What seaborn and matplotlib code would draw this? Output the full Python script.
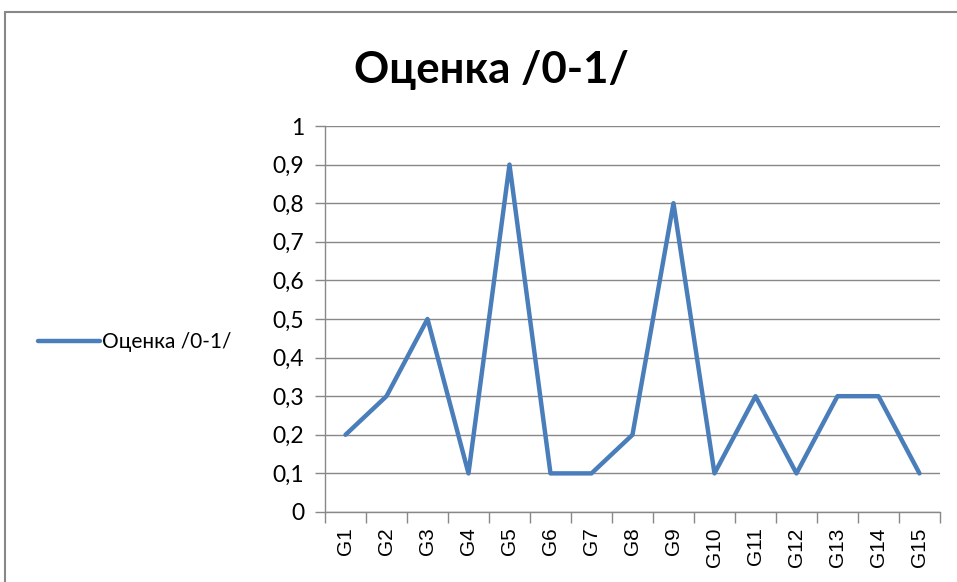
import matplotlib
matplotlib.use("Agg")
import matplotlib.pyplot as plt
import matplotlib.ticker as mticker
import pandas as pd
import seaborn as sns
from matplotlib.lines import Line2D

sns.set_style("white")
plt.rcParams["font.family"] = ["Lato", "DejaVu Sans"]
plt.rcParams["text.color"] = "black"
plt.rcParams["xtick.labelcolor"] = "black"
plt.rcParams["ytick.labelcolor"] = "black"

categories = ["G1", "G2", "G3", "G4", "G5", "G6", "G7", "G8", "G9", "G10",
              "G11", "G12", "G13", "G14", "G15"]
scores = [0.2, 0.3, 0.5, 0.1, 0.9, 0.1, 0.1, 0.2, 0.8, 0.1, 0.3, 0.1, 0.3, 0.3, 0.1]
series_name = "Оценка /0-1/"

df = pd.DataFrame({"group": categories, "score": scores})

fig = plt.figure(figsize=(9.57, 5.82), dpi=100)
ax = fig.add_axes([0.3396, 0.1203, 0.6426, 0.6632])

line_color = "#4A7EBB"
grid_color = "#888888"

sns.lineplot(data=df, x="group", y="score", ax=ax, color=line_color,
             linewidth=3.2, sort=False, legend=False)

ax.set_xlim(-0.5, len(categories) - 0.5)
ax.set_ylim(0, 1)
ax.set_xlabel("")
ax.set_ylabel("")

# y axis
ax.yaxis.set_major_locator(mticker.MultipleLocator(0.1))
ax.yaxis.set_major_formatter(
    mticker.FuncFormatter(lambda v, _: f"{v:.1f}".replace(".", ",")
                          if abs(v - round(v)) > 1e-9 else f"{int(round(v))}"))
ax.grid(axis="y", color=grid_color, linewidth=1)
ax.set_axisbelow(True)
ax.tick_params(axis="y", which="major", direction="out", length=7, width=1,
               color=grid_color, pad=8, labelsize=16.5, left=True)

# x axis: labels centred, tick marks between categories
ax.set_xticks(range(len(categories)))
ax.set_xticklabels(categories, rotation=90, fontfamily="Liberation Sans", fontsize=15)
ax.set_xticks([i - 0.5 for i in range(len(categories) + 1)], minor=True)
ax.tick_params(axis="x", which="major", length=0, pad=11)
ax.tick_params(axis="x", which="minor", direction="out", length=8, width=1,
               color=grid_color, bottom=True)

for side in ["top", "right"]:
    ax.spines[side].set_visible(False)
for side in ["left", "bottom"]:
    ax.spines[side].set_color(grid_color)
    ax.spines[side].set_linewidth(1)

fig.text(0.514, 0.879, series_name, ha="center", va="center",
         fontsize=31.5, fontweight="bold", color="black")

handle = Line2D([], [], color=line_color, linewidth=3.2)
fig.legend([handle], [series_name], loc="center left",
           bbox_to_anchor=(0.02, 0.412), frameon=False, fontsize=15,
           handlelength=3.0, handletextpad=0.1, labelcolor="black")

# chart frame (left and top edges visible)
fig.add_artist(Line2D([0.0052, 0.0052], [0.0, 0.979], color="#888888",
                      linewidth=1.5, transform=fig.transFigure))
fig.add_artist(Line2D([0.0052, 1.0], [0.979, 0.979], color="#888888",
                      linewidth=1.5, transform=fig.transFigure))

fig.savefig("out.png", dpi=100)
